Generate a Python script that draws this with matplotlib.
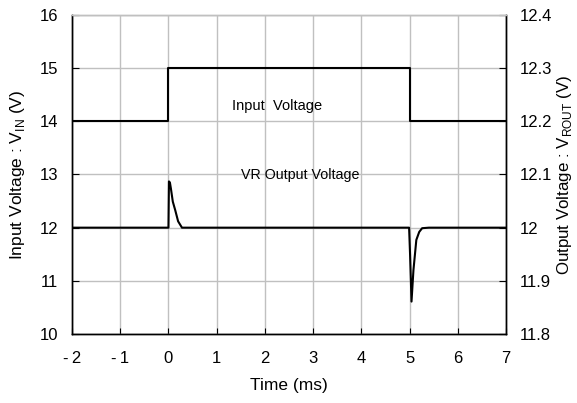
import matplotlib
matplotlib.use("Agg")
import matplotlib.pyplot as plt

plt.rcParams['font.family'] = ['Liberation Sans', 'DejaVu Sans']

# Data
input_t = [-2, 0, 0, 5, 5, 7]
input_v = [14, 14, 15, 15, 14, 14]

output_t = [-2, 0.0, 0.01, 0.03, 0.05, 0.09, 0.14, 0.2, 0.28, 4.99, 5.01, 5.04, 5.08, 5.14, 5.2, 5.26, 5.4, 7]
output_v = [12.0, 12.0, 12.087, 12.085, 12.074, 12.049, 12.033, 12.012, 12.0, 12.0, 11.95, 11.861, 11.92, 11.977, 11.992, 11.999, 12.0, 12.0]

x_ticks = [-2, -1, 0, 1, 2, 3, 4, 5, 6, 7]
left_ticks = [10, 11, 12, 13, 14, 15, 16]
right_ticks = [11.8, 11.9, 12.0, 12.1, 12.2, 12.3, 12.4]
right_labels = ["11.8", "11.9", "12", "12.1", "12.2", "12.3", "12.4"]

fig = plt.figure(figsize=(5.77, 4.03), dpi=100)
ax = fig.add_axes([0.1248, 0.1712, 0.877 - 0.1248, 0.9628 - 0.1712])
ax2 = ax.twinx()

grid_c = '#c0c0c0'
ax.set_xlim(-2, 7)
ax.set_ylim(10, 16)
ax2.set_ylim(11.8, 12.4)
ax.set_xticks(x_ticks)
ax.set_xticklabels([str(v) if v >= 0 else '-\u2009' + str(-v) for v in x_ticks])
ax.set_yticks(left_ticks)
ax2.set_yticks(right_ticks)
ax2.set_yticklabels(right_labels)
ax.grid(True, color=grid_c, linewidth=1.0)
ax.set_axisbelow(True)

ax.plot(input_t, input_v, color='black', linewidth=1.5, zorder=3)
ax2.plot(output_t, output_v, color='black', linewidth=1.5, zorder=3)

for a in (ax, ax2):
    a.spines['top'].set_color(grid_c)
    a.spines['top'].set_linewidth(1.0)
    a.spines['left'].set_linewidth(1.0)
    a.spines['right'].set_linewidth(1.0)
    a.spines['bottom'].set_linewidth(1.0)

ax.tick_params(axis='y', direction='in', length=5, labelsize=12, pad=10)
ax.tick_params(axis='x', direction='in', length=4, labelsize=12, pad=12)
ax2.tick_params(axis='y', direction='in', length=5, labelsize=12, pad=10)

ax.set_xlabel('Time (ms)', fontsize=12.5, labelpad=9)
ax.set_ylabel('Input Voltage : V$_{\\mathregular{IN}}$ (V)', fontsize=12.5, labelpad=9)
ax2.set_ylabel('Output Voltage : V$_{\\mathregular{ROUT}}$ (V)', fontsize=12.2, labelpad=2)

ax.text(2.25, 14.29, 'Input  Voltage', fontsize=10.5, ha='center', va='center')
ax.text(2.73, 12.99, 'VR Output Voltage', fontsize=10.3, ha='center', va='center')

fig.savefig('out.png', dpi=100)
